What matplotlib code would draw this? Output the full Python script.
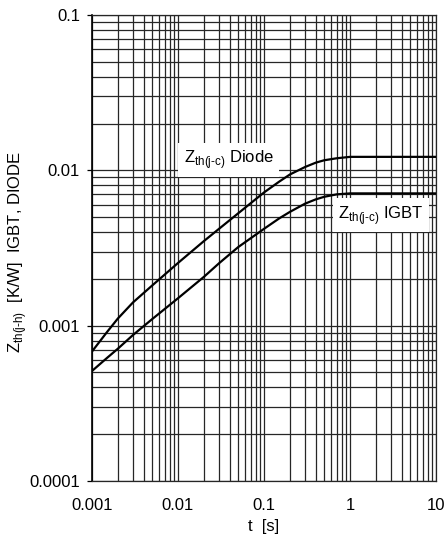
import numpy as np
import matplotlib
matplotlib.use('Agg')
import matplotlib.pyplot as plt
from matplotlib.ticker import LogLocator, NullFormatter, FixedLocator

plt.rcParams['font.family'] = ['Liberation Sans', 'DejaVu Sans']
plt.rcParams['mathtext.fontset'] = 'custom'
plt.rcParams['mathtext.rm'] = 'Liberation Sans'

# (t in s, Zth in K/W)
t = [0.001, 0.0015, 0.002, 0.003, 0.005, 0.01, 0.02, 0.03, 0.05, 0.1, 0.15,
     0.2, 0.3, 0.4, 0.5, 0.7, 1, 2, 5, 10]
z_diode = [0.00068, 0.00091, 0.00111, 0.00141, 0.00181, 0.00253, 0.0035, 0.0042,
           0.00528, 0.0072, 0.00845, 0.0094, 0.0105, 0.0112, 0.0116, 0.01195,
           0.0122, 0.0122, 0.0122, 0.0122]
z_igbt = [0.00051, 0.00062, 0.00071, 0.00087, 0.0011, 0.0015, 0.00206, 0.00252,
          0.0032, 0.0042, 0.0049, 0.0054, 0.0061, 0.0065, 0.00675, 0.0070,
          0.0071, 0.0071, 0.0071, 0.0071]

xticks = [0.001, 0.01, 0.1, 1, 10]
xticklabels = ['0.001', '0.01', '0.1', '1', '10']
yticks = [0.0001, 0.001, 0.01, 0.1]
yticklabels = ['0.0001', '0.001', '0.01', '0.1']

fig = plt.figure(figsize=(4.46, 5.42), dpi=100)
ax = fig.add_axes([0.206, 0.1125, 0.772, 0.86])

ax.set_xscale('log')
ax.set_yscale('log')
ax.set_xlim(0.001, 10)
ax.set_ylim(0.0001, 0.1)

ax.plot(t, z_diode, color='black', lw=1.6, zorder=3)
ax.plot(t, z_igbt, color='black', lw=1.6, zorder=3)

# full decade grid, majors and minors the same
ax.xaxis.set_major_locator(FixedLocator(xticks))
ax.yaxis.set_major_locator(FixedLocator(yticks))
ax.xaxis.set_minor_locator(LogLocator(base=10, subs=np.arange(2, 10)))
ax.yaxis.set_minor_locator(LogLocator(base=10, subs=np.arange(2, 10)))
ax.xaxis.set_minor_formatter(NullFormatter())
ax.yaxis.set_minor_formatter(NullFormatter())
ax.grid(True, which='both', color='0.15', lw=0.9)
ax.set_axisbelow(True)

ax.set_xticks(xticks)
ax.set_xticklabels(xticklabels)
ax.set_yticks(yticks)
ax.set_yticklabels(yticklabels)
ax.tick_params(axis='x', which='both', length=0, pad=12.5, labelsize=12)
ax.tick_params(axis='y', which='major', length=3.5, width=0.9, pad=5, labelsize=12)
ax.tick_params(axis='y', which='minor', length=0)

for s in ax.spines.values():
    s.set_color('0.15')
    s.set_linewidth(0.9)
ax.spines['left'].set_color('black')
ax.spines['left'].set_linewidth(1.2)

ax.set_xlabel('t  [s]', fontsize=12, labelpad=4)
fig.text(18 / 446, 1 - 252 / 542, r'Z$_\mathregular{th(j\text{-}h)}$  [K/W]  IGBT, DIODE',
         fontsize=12, rotation=90, ha='center', va='center')

box = dict(facecolor='white', edgecolor='none', pad=4)
ax.text(0.01175, 0.01165, r'Z$_\mathregular{th(j\text{-}c)}$ Diode', fontsize=12,
        ha='left', va='center', bbox=box, zorder=4)
ax.text(0.724, 0.00515, r'Z$_\mathregular{th(j\text{-}c)}$ IGBT', fontsize=12,
        ha='left', va='center', bbox=box, zorder=4)

fig.savefig('out.png', dpi=100)
